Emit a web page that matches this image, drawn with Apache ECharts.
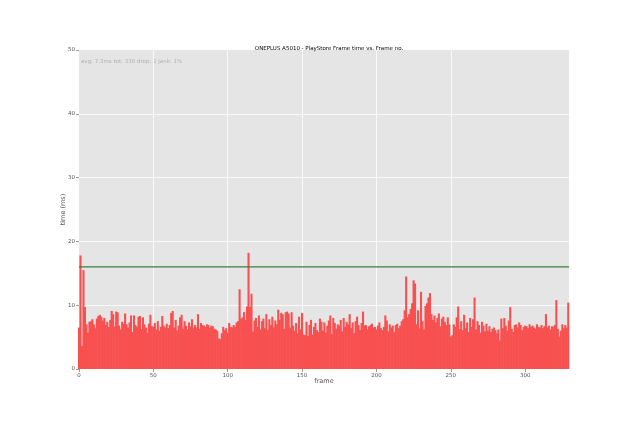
<!DOCTYPE html>
<html>
<head>
<meta charset="utf-8">
<script src="https://cdn.jsdelivr.net/npm/echarts@6/dist/echarts.min.js"></script>
<style>html,body{margin:0;padding:0;background:#fff}#c{width:633px;height:422px}</style>
</head>
<body>
<div id="c"></div>
<script>
var titleText = 'ONEPLUS A5010 - PlayStore Frame time vs. Frame no.';
var statsText = 'avg: 7.3ms tot: 330 drop: 2 jank: 1%';
var xTicks = [0, 50, 100, 150, 200, 250, 300];
var yTicks = [0, 10, 20, 30, 40, 50];
var jankThreshold = 16;
var frameTimes = [
  6.5, 17.8, 3.6, 15.5, 9.7, 7.0, 5.7, 7.4, 7.5, 7.8,
  7.0, 6.4, 7.9, 8.3, 8.5, 8.2, 7.6, 8.0, 6.9, 7.4,
  6.6, 7.7, 9.1, 8.6, 6.7, 9.0, 8.9, 6.8, 6.2, 7.4,
  7.1, 8.7, 7.0, 6.5, 7.3, 8.4, 5.8, 8.4, 6.9, 6.6,
  8.2, 8.3, 6.3, 8.1, 7.0, 6.5, 5.7, 7.1, 8.5, 6.7,
  6.6, 7.2, 6.2, 7.5, 6.0, 6.6, 8.3, 6.8, 6.5, 7.1,
  6.4, 6.9, 8.8, 9.1, 6.5, 7.7, 6.0, 6.8, 8.1, 8.5,
  6.3, 7.5, 6.8, 6.2, 7.3, 6.7, 7.8, 6.4, 6.9, 6.5,
  8.6, 6.3, 7.2, 6.9, 6.8, 6.6, 7.0, 6.9, 6.5, 6.8,
  6.7, 6.3, 6.2, 6.0, 4.8, 4.7, 5.6, 6.6, 6.1, 6.4,
  5.7, 7.2, 6.6, 6.5, 6.9, 6.6, 7.3, 7.5, 12.5, 7.9,
  8.1, 8.9, 7.7, 9.8, 18.2, 9.7, 11.8, 5.9, 7.6, 8.0,
  6.6, 8.4, 6.2, 7.5, 7.9, 6.4, 8.6, 6.1, 7.8, 6.9,
  8.2, 6.5, 7.6, 7.0, 9.3, 7.7, 8.8, 8.6, 6.3, 8.9,
  9.0, 8.7, 6.5, 8.9, 6.8, 6.0, 7.2, 5.6, 8.2, 6.2,
  8.8, 5.4, 5.3, 7.4, 5.2, 6.9, 7.7, 5.4, 6.6, 7.2,
  6.1, 5.8, 7.9, 7.4, 6.0, 7.3, 5.7, 6.8, 7.6, 8.4,
  5.5, 8.0, 7.2, 6.3, 7.0, 6.8, 7.7, 5.9, 8.0, 6.6,
  7.4, 7.0, 8.6, 6.4, 7.3, 5.6, 7.5, 8.2, 6.9, 6.1,
  7.2, 9.0, 6.8, 6.9, 6.2, 6.7, 6.9, 7.1, 6.5, 6.6,
  6.2, 6.8, 7.3, 6.4, 6.1, 6.6, 8.4, 7.6, 5.9, 7.0,
  6.5, 6.8, 5.8, 6.9, 7.1, 6.4, 6.8, 7.5, 7.8, 9.2,
  14.5, 8.1, 8.6, 9.4, 10.3, 13.9, 13.4, 7.0, 9.2, 6.4,
  12.1, 7.5, 6.2, 9.9, 10.3, 11.2, 11.9, 8.6, 7.7, 8.4,
  7.3, 8.0, 8.7, 6.7, 7.9, 8.2, 7.4, 6.9, 8.1, 7.0,
  5.1, 5.3, 7.0, 6.6, 8.1, 9.8, 6.3, 7.5, 6.1, 8.5,
  6.4, 7.3, 5.8, 8.0, 6.6, 7.8, 11.2, 6.2, 7.5, 6.9,
  5.7, 7.4, 6.8, 5.9, 7.1, 6.0, 6.7, 5.8, 6.3, 6.5,
  6.1, 5.6, 6.2, 4.5, 7.9, 6.4, 8.0, 6.8, 6.0, 7.6,
  9.7, 6.3, 5.8, 6.9, 7.0, 6.5, 7.3, 6.9, 6.1, 6.6,
  6.8, 6.7, 6.4, 7.0, 6.6, 6.8, 6.5, 6.3, 7.0, 6.6,
  6.5, 6.9, 6.4, 6.7, 8.6, 6.5, 6.8, 6.2, 6.7, 6.6,
  6.9, 10.8, 6.3, 5.1, 6.0, 7.0, 6.4, 6.9, 6.5, 10.4
];

var xMax = frameTimes.length - 0.5;
var gridLeft = 79, gridRight = 64, gridTop = 50, gridBottom = 53;
var plotW = 633 - gridLeft - gridRight;
var barData = frameTimes.map(function (v, i) { return [i, v]; });
var thresholdData = [[0, jankThreshold], [xMax, jankThreshold]];
var font = 'DejaVu Sans';
var chart = echarts.init(document.getElementById('c'), null, { renderer: 'canvas' });
chart.setOption({
  animation: false,
  backgroundColor: '#ffffff',
  title: {
    text: titleText,
    left: 324, top: 41, textAlign: 'center',
    textStyle: { fontFamily: font, fontSize: 5.5, fontWeight: 'normal', color: '#000' }
  },
  graphic: [{
    type: 'text', left: 81, top: 59, silent: true,
    style: { text: statsText, fontFamily: font, fontSize: 5.5, fill: '#b0b0b0' }
  }],
  grid: {
    left: gridLeft, right: gridRight, top: gridTop, bottom: gridBottom,
    show: true, backgroundColor: '#e5e5e5', borderWidth: 0
  },
  xAxis: {
    type: 'value', min: 0, max: xMax, interval: 50,
    name: 'frame', nameLocation: 'middle', nameGap: 9, nameMoveOverlap: false,
    nameTextStyle: { fontFamily: font, fontSize: 6.5, color: '#555' },
    axisLine: { show: false },
    axisTick: { show: true, length: 3, lineStyle: { color: '#555', width: 0.6 }, customValues: xTicks },
    axisLabel: { fontFamily: font, fontSize: 5.5, color: '#555', margin: 4, customValues: xTicks },
    splitLine: { show: true, showMinLine: false, showMaxLine: false, lineStyle: { color: '#ffffff', width: 0.8 } }
  },
  yAxis: {
    type: 'value', min: 0, max: 50, interval: 10,
    name: 'time (ms)', nameLocation: 'middle', nameGap: 12, nameRotate: 90, nameMoveOverlap: false,
    nameTextStyle: { fontFamily: font, fontSize: 6.5, color: '#555' },
    axisLine: { show: false },
    axisTick: { show: true, length: 3, lineStyle: { color: '#555', width: 0.6 } },
    axisLabel: { fontFamily: font, fontSize: 5.5, color: '#555', margin: 4 },
    splitLine: { show: true, showMinLine: false, showMaxLine: false, lineStyle: { color: '#ffffff', width: 0.8 } }
  },
  series: [{
    type: 'bar',
    data: barData,
    barWidth: plotW / xMax + 0.6,
    clip: true,
    itemStyle: { color: '#f85050' },
    emphasis: { disabled: true }
  }, {
    type: 'line',
    data: thresholdData,
    symbol: 'none',
    silent: true,
    lineStyle: { color: '#3a7f3a', width: 1.2 },
    emphasis: { disabled: true },
    z: 5
  }]
});
</script>
</body>
</html>
